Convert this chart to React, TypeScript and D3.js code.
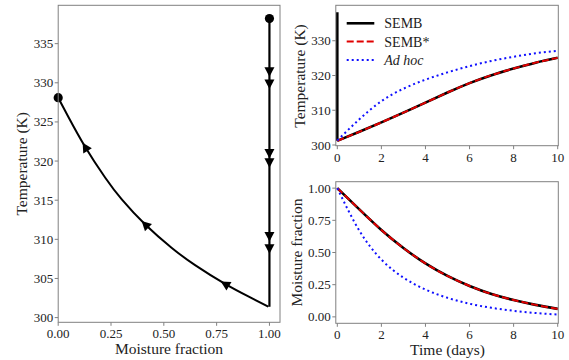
import * as d3 from "d3";

// left panel: phase trajectory (moisture fraction, temperature)
const wetPhaseT = [338.2, 301.4]; // vertical drop at moisture = 1
const dryM = [1.0, 0.995, 0.9, 0.79, 0.648, 0.538, 0.412, 0.301, 0.222, 0.128, 0.049, 0.0];
const dryT = [301.4, 301.4, 302.7, 304.3, 306.7, 308.9, 311.9, 315.1, 317.9, 321.8, 325.6, 328.1];
const vArrowT = [331.4, 329.85, 320.96, 319.8, 310.35, 308.8];
const curveArrowM = [0.79, 0.412, 0.128];

// right panels: time series
const days = [0, 1, 2, 3, 4, 5, 6, 7, 8, 9, 10];
const sembT = [301.2, 303.8, 306.5, 309.3, 312.2, 315.1, 317.8, 320.1, 322.0, 323.7, 325.1];
const sembStarT = [301.2, 303.8, 306.5, 309.3, 312.2, 315.1, 317.8, 320.1, 322.0, 323.7, 325.1];
const adHocT = [301.3, 307.4, 312.6, 316.2, 318.8, 320.9, 322.7, 324.2, 325.4, 326.4, 327.1];
const sembM = [1.0, 0.835, 0.675, 0.535, 0.415, 0.318, 0.24, 0.178, 0.131, 0.093, 0.062];
const sembStarM = [1.0, 0.835, 0.675, 0.535, 0.415, 0.318, 0.24, 0.178, 0.131, 0.093, 0.062];
const adHocM = [1.0, 0.67, 0.445, 0.305, 0.212, 0.148, 0.102, 0.07, 0.047, 0.03, 0.018];
const initialT = 338.2;

const leftXTicks = [0, 0.25, 0.5, 0.75, 1.0];
const leftYTicks = [300, 305, 310, 315, 320, 325, 330, 335];
const rightXTicks = [0, 2, 4, 6, 8, 10];
const rightTopYTicks = [300, 310, 320, 330];
const rightBotYTicks = [0, 0.25, 0.5, 0.75, 1.0];

const FONT = "Liberation Serif, Times New Roman, DejaVu Serif, serif";
const FRAME = "#808080";
const TICK_FS = 13;
const LABEL_FS = 15.5;

const xL = d3.scaleLinear().domain([0, 1.05]).range([58.2, 280]);
const yL = d3.scaleLinear().domain([299.4, 339.9]).range([322.3, 5.3]);
const xR = d3.scaleLinear().domain([0, 10]).range([337.3, 557.7]);
const yRT = d3.scaleLinear().domain([299.8, 340.2]).range([145.7, 5.3]);
const yRB = d3.scaleLinear().domain([-0.05, 1.05]).range([323.3, 181.7]);

function Frame({ x0, x1, y0, y1 }: any) {
  return <rect x={x0} y={y0} width={x1 - x0} height={y1 - y0} fill="none" stroke={FRAME} strokeWidth={1} />;
}

function XTicks({ scale, ticks, y, fmt }: any) {
  return (
    <g>
      {ticks.map((t: number) => (
        <g key={t}>
          <line x1={scale(t)} x2={scale(t)} y1={y} y2={y + 3.5} stroke={FRAME} strokeWidth={1} />
          <text x={scale(t)} y={y + 16} textAnchor="middle" fontSize={TICK_FS} fontFamily={FONT} fill="#222">{fmt(t)}</text>
        </g>
      ))}
    </g>
  );
}

function YTicks({ scale, ticks, x, fmt }: any) {
  return (
    <g>
      {ticks.map((t: number) => (
        <g key={t}>
          <line x1={x - 3.5} x2={x} y1={scale(t)} y2={scale(t)} stroke={FRAME} strokeWidth={1} />
          <text x={x - 5} y={scale(t)} dy="0.35em" textAnchor="end" fontSize={TICK_FS} fontFamily={FONT} fill="#222">{fmt(t)}</text>
        </g>
      ))}
    </g>
  );
}

function tri(cx: number, cy: number, angle: number) {
  // triangle pointing along +x, rotated by angle (radians)
  const pts = [[5, 0], [-4.5, -5], [-4.5, 5]].map(([px, py]) => [
    cx + px * Math.cos(angle) - py * Math.sin(angle),
    cy + px * Math.sin(angle) + py * Math.cos(angle),
  ]);
  return pts.map((p) => p.join(",")).join(" ");
}

export default function App() {
  const curveTAt = d3.scaleLinear().domain(dryM.slice(1)).range(dryT.slice(1));
  const dryPts = dryM.map((m, i) => [xL(m), yL(dryT[i])] as [number, number]);
  const lineN = d3.line().curve(d3.curveNatural);

  const series = (ys: number[], yScale: any) =>
    lineN(days.map((d, i) => [xR(d), yScale(ys[i])] as [number, number]));

  const curveArrows = curveArrowM.map((m) => {
    const a = [xL(m + 0.01), yL(curveTAt(m + 0.01))];
    const b = [xL(m - 0.01), yL(curveTAt(m - 0.01))];
    const ang = Math.atan2(b[1] - a[1], b[0] - a[0]);
    return tri(xL(m), yL(curveTAt(m)), ang);
  });

  const legend = [
    { name: "SEMB", color: "#000", dash: "none", w: 2.6, italic: false },
    { name: "SEMB*", color: "#e00000", dash: "7,3", w: 2, italic: false },
    { name: "Ad hoc", color: "#1010ff", dash: "2,3", w: 2, italic: true },
  ];

  return (
    <svg width={569} height={360} style={{ position: "absolute", left: 0, top: 0, background: "#fff" }}>
      {/* left panel */}
      <g>
        <line x1={xL(1)} x2={xL(1)} y1={yL(wetPhaseT[0])} y2={yL(wetPhaseT[1])} stroke="#000" strokeWidth={2.2} />
        <path d={lineN(dryPts.slice(1)) || ""} fill="none" stroke="#000" strokeWidth={2} />
        {vArrowT.map((t) => (
          <polygon key={t} points={tri(xL(1), yL(t), Math.PI / 2)} fill="#000" />
        ))}
        {curveArrows.map((p, i) => (
          <polygon key={i} points={p} fill="#000" />
        ))}
        <circle cx={xL(1)} cy={yL(wetPhaseT[0])} r={4.6} fill="#000" />
        <circle cx={xL(dryM[dryM.length - 1])} cy={yL(dryT[dryT.length - 1])} r={4.6} fill="#000" />
        <Frame x0={58.2} x1={280} y0={5.3} y1={322.3} />
        <XTicks scale={xL} ticks={leftXTicks} y={322.3} fmt={(v: number) => v.toFixed(2)} />
        <YTicks scale={yL} ticks={leftYTicks} x={58.2} fmt={(v: number) => String(v)} />
        <text x={169} y={354} textAnchor="middle" fontSize={LABEL_FS} fontFamily={FONT} fill="#222">Moisture fraction</text>
        <text transform="translate(21.5,163.8) rotate(-90)" textAnchor="middle" dy="0.35em" fontSize={LABEL_FS} fontFamily={FONT} fill="#222">Temperature (K)</text>
      </g>

      {/* right top panel */}
      <g>
        <defs>
          <clipPath id="clipRT"><rect x={335.8} y={5.3} width={222.5} height={140.4} /></clipPath>
          <clipPath id="clipRB"><rect x={335.8} y={181.7} width={222.5} height={141.6} /></clipPath>
        </defs>
        <g clipPath="url(#clipRT)">
          <line x1={xR(0)} x2={xR(0)} y1={yRT(initialT)} y2={yRT(sembT[0])} stroke="#000" strokeWidth={2.6} />
          <path d={series(sembT, yRT) || ""} fill="none" stroke="#000" strokeWidth={2.6} />
          <path d={series(sembStarT, yRT) || ""} fill="none" stroke="#e00000" strokeWidth={2} strokeDasharray="7,3" />
          <path d={series(adHocT, yRT) || ""} fill="none" stroke="#1010ff" strokeWidth={2} strokeDasharray="2,3" />
        </g>
        <Frame x0={335.8} x1={558.3} y0={5.3} y1={145.7} />
        <XTicks scale={xR} ticks={rightXTicks} y={145.7} fmt={(v: number) => String(v)} />
        <YTicks scale={yRT} ticks={rightTopYTicks} x={335.8} fmt={(v: number) => String(v)} />
        <text transform="translate(300,76) rotate(-90)" textAnchor="middle" dy="0.35em" fontSize={LABEL_FS} fontFamily={FONT} fill="#222">Temperature (K)</text>
        {legend.map((l, i) => (
          <g key={l.name}>
            <line x1={346.7} x2={374.3} y1={23.3 + i * 18.3} y2={23.3 + i * 18.3} stroke={l.color} strokeWidth={l.w} strokeDasharray={l.dash} />
            <text x={384.3} y={23.3 + i * 18.3} dy="0.35em" fontSize={14} fontFamily={FONT} fontStyle={l.italic ? "italic" : "normal"} fill="#222">{l.name}</text>
          </g>
        ))}
      </g>

      {/* right bottom panel */}
      <g>
        <g clipPath="url(#clipRB)">
          <path d={series(sembM, yRB) || ""} fill="none" stroke="#000" strokeWidth={2.6} />
          <path d={series(sembStarM, yRB) || ""} fill="none" stroke="#e00000" strokeWidth={2} strokeDasharray="7,3" />
          <path d={series(adHocM, yRB) || ""} fill="none" stroke="#1010ff" strokeWidth={2} strokeDasharray="2,3" />
        </g>
        <Frame x0={335.8} x1={558.3} y0={181.7} y1={323.3} />
        <XTicks scale={xR} ticks={rightXTicks} y={323.3} fmt={(v: number) => String(v)} />
        <YTicks scale={yRB} ticks={rightBotYTicks} x={335.8} fmt={(v: number) => v.toFixed(2)} />
        <text transform="translate(296.5,252.5) rotate(-90)" textAnchor="middle" dy="0.35em" fontSize={LABEL_FS} fontFamily={FONT} fill="#222">Moisture fraction</text>
        <text x={447.5} y={355} textAnchor="middle" fontSize={LABEL_FS} fontFamily={FONT} fill="#222">Time (days)</text>
      </g>
    </svg>
  );
}
